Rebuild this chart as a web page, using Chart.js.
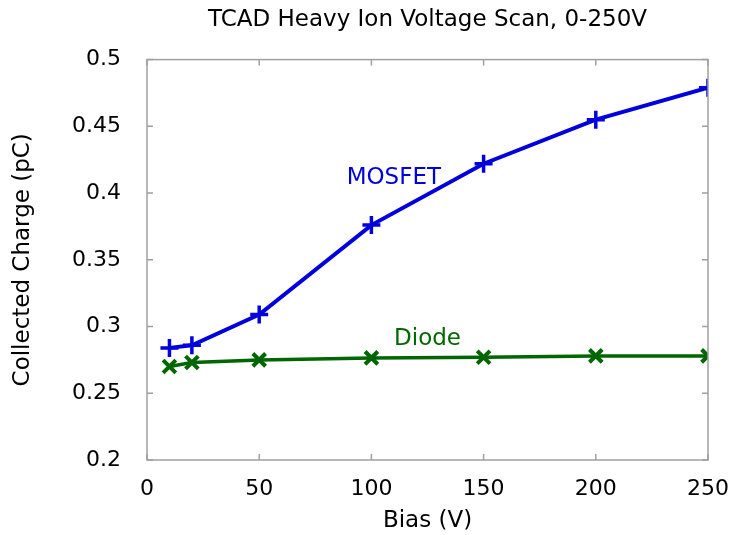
<!DOCTYPE html>
<html>
<head>
<meta charset="utf-8">
<script src="https://cdn.jsdelivr.net/npm/chart.js@4.4.0/dist/chart.umd.min.js"></script>
<style>
    html, body { margin: 0; padding: 0; background: #fff; }
    #wrap { width: 733px; height: 535px; position: relative; }
</style>
</head>
<body>
<div id="wrap"><canvas id="chart" width="733" height="535"></canvas></div>
<script>
// data
const biasV = [10, 20, 50, 100, 150, 200, 250];
const mosfetQ = [0.284, 0.286, 0.309, 0.376, 0.422, 0.455, 0.479];
const diodeQ = [0.270, 0.273, 0.275, 0.2765, 0.277, 0.278, 0.278];
const xTicks = [0, 50, 100, 150, 200, 250];
const yTicks = [0.2, 0.25, 0.3, 0.35, 0.4, 0.45, 0.5];

const blue = '#0000dd';
const green = '#006600';
const font = "'DejaVu Sans', sans-serif";

// series labels, placed in data coordinates
const seriesNotes = [
    { text: 'MOSFET', x: 110, y: 0.411, color: blue },
    { text: 'Diode', x: 125, y: 0.291, color: green }
];

// gnuplot style frame with inward ticks on all four sides
const framePlugin = {
    id: 'frame',
    afterDatasetsDraw(chart) {
        const { ctx, chartArea: a, scales } = chart;
        ctx.save();
        ctx.strokeStyle = '#a0a0a0';
        ctx.lineWidth = 1.5;
        ctx.strokeRect(a.left, a.top, a.right - a.left, a.bottom - a.top);
        ctx.beginPath();
        xTicks.forEach(v => {
            const px = scales.x.getPixelForValue(v);
            ctx.moveTo(px, a.bottom); ctx.lineTo(px, a.bottom - 6);
            ctx.moveTo(px, a.top); ctx.lineTo(px, a.top + 6);
        });
        yTicks.forEach(v => {
            const py = scales.y.getPixelForValue(v);
            ctx.moveTo(a.left, py); ctx.lineTo(a.left + 6, py);
            ctx.moveTo(a.right, py); ctx.lineTo(a.right - 6, py);
        });
        ctx.stroke();

        ctx.font = '23px ' + font;
        ctx.textAlign = 'center';
        ctx.textBaseline = 'middle';
        seriesNotes.forEach(n => {
            ctx.fillStyle = n.color;
            ctx.fillText(n.text, scales.x.getPixelForValue(n.x), scales.y.getPixelForValue(n.y));
        });
        ctx.restore();
    }
};

new Chart(document.getElementById('chart'), {
    type: 'line',
    data: {
        datasets: [
            {
                label: 'MOSFET',
                data: biasV.map((x, i) => ({ x, y: mosfetQ[i] })),
                borderColor: blue, backgroundColor: blue,
                borderWidth: 4, pointStyle: 'cross', pointRadius: 9,
                pointBorderWidth: 3.5, tension: 0
            },
            {
                label: 'Diode',
                data: biasV.map((x, i) => ({ x, y: diodeQ[i] })),
                borderColor: green, backgroundColor: green,
                borderWidth: 3.5, pointStyle: 'crossRot', pointRadius: 9,
                pointBorderWidth: 4, tension: 0
            }
        ]
    },
    options: {
        responsive: false,
        animation: false,
        layout: { padding: { left: 0, right: 25, top: 0, bottom: 0 } },
        plugins: {
            legend: { display: false },
            tooltip: { enabled: false },
            title: {
                display: true,
                text: 'TCAD Heavy Ion Voltage Scan, 0-250V',
                fullSize: false,
                color: '#000',
                font: { family: font, size: 23, weight: 'normal' },
                padding: { top: 6, bottom: 26 }
            }
        },
        scales: {
            x: {
                type: 'linear', min: 0, max: 250,
                afterBuildTicks: s => { s.ticks = xTicks.map(v => ({ value: v })); },
                afterFit: s => { s.height = 75; s.paddingLeft = 0; s.paddingRight = 0; },
                grid: { display: false },
                border: { display: false },
                ticks: { color: '#000', font: { family: font, size: 22 }, padding: 8, maxRotation: 0 },
                title: { display: true, text: 'Bias (V)', color: '#000', font: { family: font, size: 23 }, padding: { top: 0, bottom: 0 } }
            },
            y: {
                type: 'linear', min: 0.2, max: 0.5,
                afterBuildTicks: s => { s.ticks = yTicks.map(v => ({ value: v })); },
                afterFit: s => { s.width = 147; },
                grid: { display: false },
                border: { display: false },
                ticks: { color: '#000', font: { family: font, size: 22 }, padding: 18, callback: v => String(v) },
                title: { display: true, text: 'Collected Charge (pC)', color: '#000', font: { family: font, size: 23 }, padding: { top: 9, bottom: 0 } }
            }
        }
    },
    plugins: [framePlugin]
});
</script>
</body>
</html>
